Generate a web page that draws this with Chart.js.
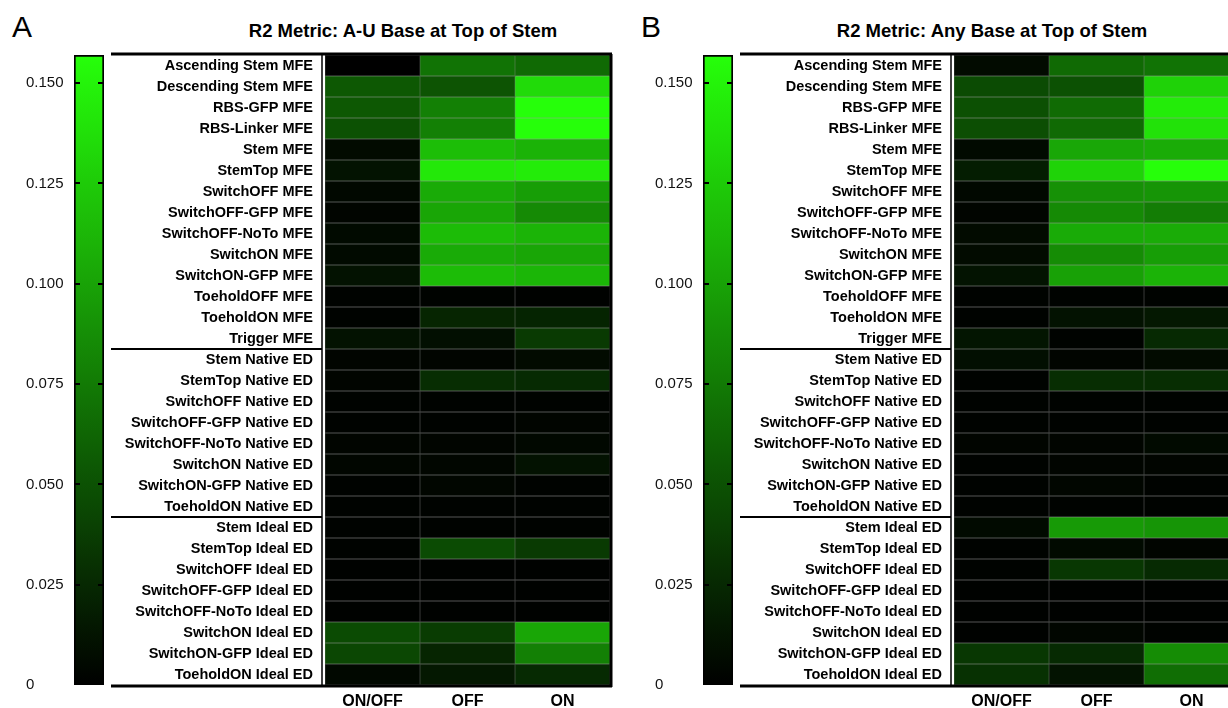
<!DOCTYPE html>
<html>
<head>
<meta charset="utf-8">
<script src="https://cdn.jsdelivr.net/npm/chart.js@4/dist/chart.umd.min.js"></script>
<style>
  html, body { margin: 0; padding: 0; background: #fff; width: 1228px; height: 708px; overflow: hidden; }
  body { position: relative; font-family: "Liberation Sans", Arial, Helvetica, sans-serif; }
  .box { position: absolute; }
  .letter { position: absolute; font-size: 30px; line-height: 1; color: #000; }
  .title { position: absolute; font-size: 18.5px; font-weight: bold; line-height: 1; color: #000;
           white-space: nowrap; transform: translateX(-50%); }
</style>
</head>
<body>
<div class="letter" style="left:12px;top:12px">A</div>
<div class="title" style="left:403px;top:22px">R2 Metric: A-U Base at Top of Stem</div>
<div class="letter" style="left:641px;top:12px">B</div>
<div class="title" style="left:992px;top:22px">R2 Metric: Any Base at Top of Stem</div>

<div class="box" style="left:0px;top:45px"><canvas id="cbA" width="112" height="663"></canvas></div>
<div class="box" style="left:110px;top:45px"><canvas id="hmA" width="506" height="663"></canvas></div>
<div class="box" style="left:629px;top:45px"><canvas id="cbB" width="112" height="663"></canvas></div>
<div class="box" style="left:739px;top:45px"><canvas id="hmB" width="506" height="663"></canvas></div>

<script>
// Feature rows (three groups: MFE, native ED, ideal ED)
const rowLabels = [
  'Ascending Stem MFE', 'Descending Stem MFE', 'RBS-GFP MFE', 'RBS-Linker MFE', 'Stem MFE',
  'StemTop MFE', 'SwitchOFF MFE', 'SwitchOFF-GFP MFE', 'SwitchOFF-NoTo MFE', 'SwitchON MFE',
  'SwitchON-GFP MFE', 'ToeholdOFF MFE', 'ToeholdON MFE', 'Trigger MFE',
  'Stem Native ED', 'StemTop Native ED', 'SwitchOFF Native ED', 'SwitchOFF-GFP Native ED',
  'SwitchOFF-NoTo Native ED', 'SwitchON Native ED', 'SwitchON-GFP Native ED', 'ToeholdON Native ED',
  'Stem Ideal ED', 'StemTop Ideal ED', 'SwitchOFF Ideal ED', 'SwitchOFF-GFP Ideal ED',
  'SwitchOFF-NoTo Ideal ED', 'SwitchON Ideal ED', 'SwitchON-GFP Ideal ED', 'ToeholdON Ideal ED'
];
const groupStarts = [14, 22];
const columnLabels = ['ON/OFF', 'OFF', 'ON'];

// R2 values, A-U base at top of stem
const auOnOff = [0.000, 0.054, 0.054, 0.050, 0.007, 0.012, 0.005, 0.003, 0.006, 0.006,
                 0.011, 0.002, 0.002, 0.011, 0.003, 0.003, 0.002, 0.002, 0.003, 0.004,
                 0.002, 0.002, 0.002, 0.002, 0.001, 0.001, 0.001, 0.046, 0.044, 0.005];
const auOff    = [0.071, 0.052, 0.079, 0.079, 0.117, 0.143, 0.105, 0.102, 0.116, 0.105,
                 0.116, 0.002, 0.023, 0.009, 0.003, 0.028, 0.002, 0.002, 0.003, 0.004,
                 0.004, 0.002, 0.002, 0.046, 0.001, 0.001, 0.001, 0.037, 0.023, 0.015];
const auOn     = [0.065, 0.135, 0.157, 0.157, 0.110, 0.145, 0.097, 0.085, 0.111, 0.102,
                 0.112, 0.001, 0.022, 0.036, 0.007, 0.026, 0.002, 0.003, 0.005, 0.011,
                 0.002, 0.002, 0.002, 0.036, 0.001, 0.001, 0.001, 0.102, 0.079, 0.026];

// R2 values, any base at top of stem
const anyOnOff = [0.007, 0.046, 0.049, 0.048, 0.006, 0.018, 0.005, 0.003, 0.007, 0.007,
                  0.012, 0.002, 0.002, 0.013, 0.009, 0.002, 0.002, 0.002, 0.003, 0.002,
                  0.002, 0.002, 0.006, 0.002, 0.002, 0.001, 0.001, 0.001, 0.034, 0.030];
const anyOff   = [0.065, 0.050, 0.066, 0.065, 0.103, 0.130, 0.089, 0.085, 0.105, 0.086,
                  0.099, 0.002, 0.011, 0.002, 0.003, 0.028, 0.002, 0.002, 0.003, 0.003,
                  0.004, 0.002, 0.095, 0.006, 0.034, 0.001, 0.001, 0.004, 0.026, 0.012];
const anyOn    = [0.071, 0.129, 0.145, 0.139, 0.106, 0.157, 0.092, 0.077, 0.106, 0.097,
                  0.110, 0.002, 0.015, 0.025, 0.007, 0.028, 0.002, 0.002, 0.006, 0.003,
                  0.002, 0.002, 0.092, 0.003, 0.026, 0.001, 0.001, 0.002, 0.086, 0.068];

// Colour scale
const colorbarMax = 0.157;
const colorbarTicks = [0, 0.025, 0.050, 0.075, 0.100, 0.125, 0.150];

const FONT = '"Liberation Sans", Arial, Helvetica, sans-serif';

function colorFor(v) {
  const t = Math.max(0, Math.min(1, v / colorbarMax));
  return `rgb(${Math.round(38 * t)},${Math.round(255 * t)},${Math.round(10 * t)})`;
}

function line(ctx, x1, y1, x2, y2) {
  ctx.beginPath(); ctx.moveTo(x1, y1); ctx.lineTo(x2, y2); ctx.stroke();
}

// keep the plot area exactly where the layout puts it
function noEdgePadding(s) {
  s.paddingTop = 0; s.paddingBottom = 0; s.paddingLeft = 0; s.paddingRight = 0;
}

// inward tick marks on both edges of the colour bar
const colorbarMarks = {
  id: 'colorbarMarks',
  afterDatasetsDraw(chart) {
    const { ctx, chartArea: a, scales: { y } } = chart;
    ctx.save();
    ctx.strokeStyle = '#000';
    ctx.lineWidth = 2;
    colorbarTicks.forEach(v => {
      if (v === 0) return;
      const py = Math.round(y.getPixelForValue(v));
      line(ctx, a.left, py, a.left + 6, py);
      line(ctx, a.right - 6, py, a.right, py);
    });
    ctx.restore();
  }
};

// label box, group rules and heatmap frame
const heatmapFrame = {
  id: 'heatmapFrame',
  afterDatasetsDraw(chart) {
    const { ctx, chartArea: a, scales: { y } } = chart;
    const x0 = 1;
    const boxRight = a.left - 3;
    ctx.save();
    ctx.strokeStyle = '#000';
    ctx.lineWidth = 1.5;
    line(ctx, boxRight, a.top, boxRight, a.bottom);
    ctx.lineWidth = 2;
    groupStarts.forEach(idx => {
      const py = (y.getPixelForValue(idx - 1) + y.getPixelForValue(idx)) / 2;
      line(ctx, x0, py, boxRight, py);
    });
    ctx.lineWidth = 3;
    line(ctx, x0, a.top - 1, a.right + 2, a.top - 1);
    line(ctx, x0, a.bottom + 1, a.right + 2, a.bottom + 1);
    line(ctx, a.right + 1, a.top - 1, a.right + 1, a.bottom + 2);
    ctx.restore();
  }
};

function colorbarChart(id) {
  return new Chart(document.getElementById(id), {
    type: 'bar',
    data: {
      labels: ['R2'],
      datasets: [{
        data: [[0, colorbarMax]],
        backgroundColor(c) {
          const ch = c.chart;
          if (!ch.chartArea) return '#000';
          const ys = ch.scales.y;
          const g = ch.ctx.createLinearGradient(0, ys.getPixelForValue(0), 0, ys.getPixelForValue(colorbarMax));
          for (let i = 0; i <= 20; i++) g.addColorStop(i / 20, colorFor(colorbarMax * i / 20));
          return g;
        },
        borderColor: '#000',
        borderWidth: 2,
        borderSkipped: false,
        barPercentage: 1,
        categoryPercentage: 1
      }]
    },
    options: {
      responsive: false,
      animation: false,
      devicePixelRatio: 1,
      layout: { padding: { left: 26, right: 8, top: 10, bottom: 23 } },
      plugins: { legend: { display: false }, tooltip: { enabled: false } },
      scales: {
        x: { display: false },
        y: {
          min: 0, max: colorbarMax, position: 'left',
          grid: { display: false, drawTicks: false }, border: { display: false },
          afterBuildTicks(s) { s.ticks = colorbarTicks.map(v => ({ value: v })); },
          afterFit(s) { s.width = 48; noEdgePadding(s); },
          ticks: {
            crossAlign: 'far', padding: 0, color: '#111',
            font: { family: FONT, size: 15 },
            callback: v => (v === 0 ? '0' : v.toFixed(3))
          }
        }
      }
    },
    plugins: [colorbarMarks]
  });
}

function heatmapChart(id, series) {
  return new Chart(document.getElementById(id), {
    type: 'bar',
    data: {
      labels: rowLabels,
      datasets: series.map((vals, i) => ({
        label: columnLabels[i],
        data: rowLabels.map(() => [i, i + 1]),
        backgroundColor: vals.map(colorFor),
        borderColor: 'rgba(55,55,55,0.55)',
        borderWidth: 0.5,
        borderSkipped: false,
        barPercentage: 1,
        categoryPercentage: 1,
        grouped: false
      }))
    },
    options: {
      indexAxis: 'y',
      responsive: false,
      animation: false,
      devicePixelRatio: 1,
      layout: { padding: { left: 0, right: 6, top: 10, bottom: 0 } },
      plugins: { legend: { display: false }, tooltip: { enabled: false } },
      scales: {
        x: {
          type: 'linear', min: 0, max: 3, position: 'bottom',
          grid: { display: false, drawTicks: false }, border: { display: false },
          afterBuildTicks(s) { s.ticks = columnLabels.map((_, i) => ({ value: i + 0.5 })); },
          afterFit(s) { s.height = 23; noEdgePadding(s); },
          ticks: {
            padding: 7, color: '#000', maxRotation: 0, autoSkip: false,
            font: { family: FONT, size: 16, weight: 'bold' },
            callback: (v, i) => columnLabels[i]
          }
        },
        y: {
          type: 'category', position: 'left',
          grid: { display: false, drawTicks: false }, border: { display: false },
          afterFit(s) { s.width = 215; noEdgePadding(s); },
          ticks: {
            padding: 12, color: '#000', autoSkip: false,
            font: { family: FONT, size: 14.5, weight: 'bold' }
          }
        }
      }
    },
    plugins: [heatmapFrame]
  });
}

colorbarChart('cbA');
heatmapChart('hmA', [auOnOff, auOff, auOn]);
colorbarChart('cbB');
heatmapChart('hmB', [anyOnOff, anyOff, anyOn]);
</script>
</body>
</html>
